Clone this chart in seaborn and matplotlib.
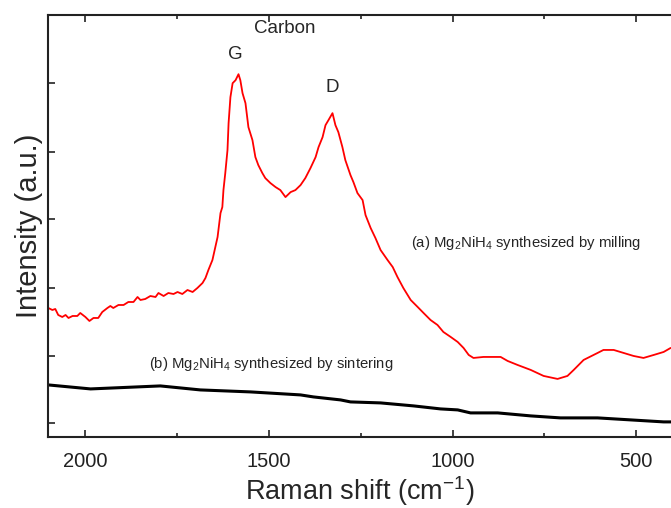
import numpy as np
import pandas as pd
import seaborn as sns
from matplotlib import pyplot as plt

# Raman spectra (wavenumber in cm-1, intensity in a.u.)
# (a) milled sample
shift_a = [2101, 2090, 2082, 2074, 2063, 2054, 2046, 2035, 2022, 2014, 2000,
           1989, 1978, 1965, 1954, 1940, 1932, 1924, 1910, 1896, 1883, 1869,
           1858, 1850, 1837, 1823, 1809, 1801, 1787, 1774, 1760, 1749, 1736,
           1722, 1708, 1695, 1681, 1673, 1665, 1654, 1640, 1632, 1627, 1624,
           1619, 1613, 1610, 1605, 1599, 1591, 1583, 1578, 1572, 1564, 1556,
           1545, 1537, 1529, 1518, 1510, 1496, 1482, 1469, 1455, 1441, 1428,
           1414, 1401, 1387, 1373, 1365, 1354, 1346, 1338, 1327, 1319, 1311,
           1300, 1292, 1278, 1270, 1259, 1245, 1237, 1223, 1210, 1196, 1177,
           1163, 1150, 1134, 1114, 1095, 1079, 1060, 1041, 1025, 1005, 986,
           970, 956, 943, 916, 888, 869, 850, 823, 787, 752, 714, 687, 670,
           643, 605, 589, 561, 534, 507, 480, 452, 425, 406]
inten_a = [129, 127, 128, 122, 120, 122, 119, 121, 121, 124, 120,
           116, 119, 119, 125, 129, 131, 129, 132, 132, 135, 135,
           140, 137, 138, 141, 140, 144, 141, 144, 143, 145, 143,
           147, 145, 149, 154, 159, 167, 177, 200, 224, 230, 247,
           264, 287, 314, 340, 354, 357, 363, 357, 344, 334, 310,
           297, 280, 272, 264, 259, 254, 250, 247, 240, 245, 247,
           252, 259, 269, 280, 290, 300, 312, 317, 324, 312, 305,
           290, 277, 262, 255, 244, 237, 222, 209, 199, 187, 177,
           170, 160, 149, 137, 130, 124, 117, 112, 105, 100, 95,
           89, 82, 79, 80, 80, 80, 76, 72, 67, 61, 58, 61, 67,
           77, 84, 87, 87, 84, 81, 79, 82, 85, 89]
# (b) sintered sample
shift_b = [2101, 1986, 1796, 1687, 1550, 1414, 1379, 1305, 1278, 1196, 1106,
           1033, 986, 951, 877, 787, 706, 605, 515, 425, 405]
inten_b = [52, 48, 51, 47, 45, 42, 40, 37, 35, 34, 31, 28, 27, 24, 24, 21, 19,
           19, 17, 15, 15]

df_a = pd.DataFrame({"shift": shift_a, "inten": inten_a})
df_b = pd.DataFrame({"shift": shift_b, "inten": inten_b})

sns.set_style("ticks")
plt.rcParams["font.family"] = ["Liberation Sans", "DejaVu Sans"]
plt.rcParams["mathtext.fontset"] = "custom"
plt.rcParams["mathtext.rm"] = "Liberation Sans"
plt.rcParams["mathtext.it"] = "Liberation Sans:italic"
plt.rcParams["mathtext.bf"] = "Liberation Sans:bold"
plt.rcParams["axes.unicode_minus"] = False

fig, ax = plt.subplots(figsize=(6.71, 5.08), dpi=100)
fig.subplots_adjust(left=0.072, right=1.0, bottom=0.14, top=0.97)

sns.lineplot(data=df_a, x="shift", y="inten", color="red", linewidth=1.3,
             ax=ax, sort=False)
sns.lineplot(data=df_b, x="shift", y="inten", color="black", linewidth=2.2,
             ax=ax, sort=False)

ax.set_xlim(2101, 405)
ax.set_ylim(0, 422)
ax.set_xticks([2000, 1500, 1000, 500])
ax.set_xticks([1750, 1250, 750], minor=True)
ax.set_yticks([14, 81, 149, 218, 285, 354])
ax.set_yticklabels([])
ax.tick_params(axis="both", which="both", direction="in", top=True,
               labelsize=14.5, width=1.2, colors="#222222")
ax.tick_params(axis="x", which="major", length=5, pad=11)
ax.tick_params(axis="y", which="major", length=5)
ax.tick_params(axis="x", which="minor", length=3)
for side in ["left", "bottom", "top"]:
    ax.spines[side].set_linewidth(1.5)
    ax.spines[side].set_color("#222222")
ax.spines["right"].set_visible(False)

ax.set_xlabel("Raman shift (cm$^{-1}$)", fontsize=19.5, labelpad=2)
ax.set_ylabel("Intensity (a.u.)", fontsize=21, labelpad=0.5)

ax.text(1456, 409, "Carbon", fontsize=13.5, ha="center", va="center")
ax.text(1591, 383, "G", fontsize=13.5, ha="center", va="center")
ax.text(1327, 350, "D", fontsize=13.5, ha="center", va="center")
ax.text(1114, 194, "(a) Mg$_2$NiH$_4$ synthesized by milling", fontsize=10.7,
        ha="left", va="center")
ax.text(1828, 73, "(b) Mg$_2$NiH$_4$ synthesized by sintering", fontsize=10.7,
        ha="left", va="center")

plt.savefig("out.png", dpi=100)
